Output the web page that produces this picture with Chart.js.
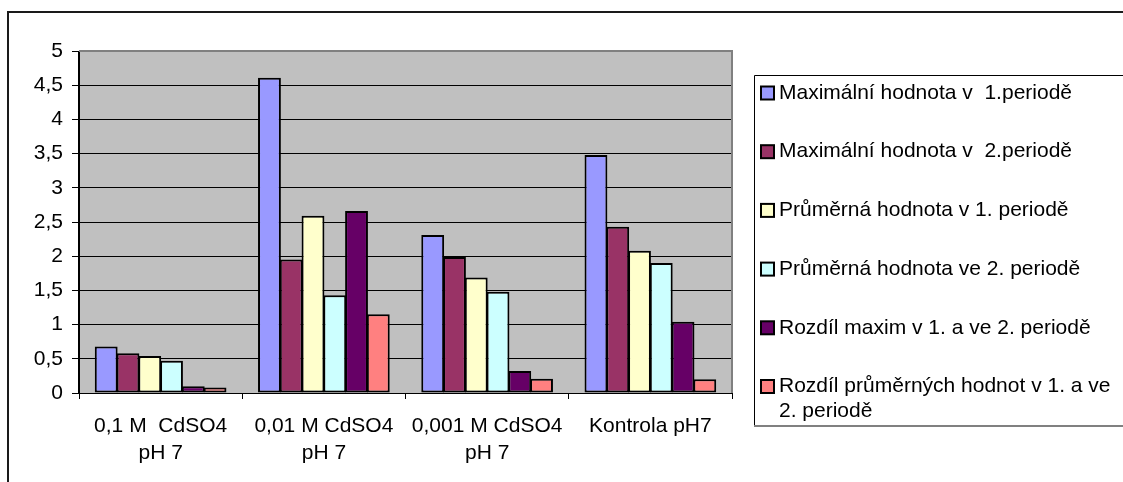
<!DOCTYPE html>
<html>
<head>
<meta charset="utf-8">
<script src="https://cdn.jsdelivr.net/npm/chart.js@4/dist/chart.umd.min.js"></script>
<style>
  html, body { margin: 0; padding: 0; background: #fff; }
  #wrap { width: 1123px; height: 482px; }
</style>
</head>
<body>
<div id="wrap"><canvas id="c" width="1123" height="482"></canvas></div>
<script>
// Categories (multi-line axis labels)
const categories = [
  ['0,1 M  CdSO4', 'pH 7'],
  ['0,01 M CdSO4', 'pH 7'],
  ['0,001 M CdSO4', 'pH 7'],
  ['Kontrola pH7']
];

// Series names
const seriesNames = [
  'Maximální hodnota v  1.periodě',
  'Maximální hodnota v  2.periodě',
  'Průměrná hodnota v 1. periodě',
  'Průměrná hodnota ve 2. periodě',
  'Rozdíl maxim v 1. a ve 2. periodě',
  'Rozdíl průměrných hodnot v 1. a ve 2. periodě'
];

// Series values, one per category
const maxPeriod1   = [0.68, 4.61, 2.31, 3.48];
const maxPeriod2   = [0.58, 1.95, 1.99, 2.43];
const meanPeriod1  = [0.54, 2.59, 1.69, 2.08];
const meanPeriod2  = [0.47, 1.43, 1.48, 1.90];
const diffMax      = [0.10, 2.66, 0.32, 1.04];
const diffMean     = [0.08, 1.15, 0.21, 0.20];

// Y axis range
const yMin = 0, yMax = 5, yStep = 0.5;

const seriesValues = [maxPeriod1, maxPeriod2, meanPeriod1, meanPeriod2, diffMax, diffMean];
const seriesColors = ['#9999FF', '#993366', '#FFFFCC', '#CCFFFF', '#660066', '#FF8080'];

const FONT = '"Liberation Sans", Arial, sans-serif';
const FONT_SIZE = 21;

// Page frame, plot background and plot border
const framePlugin = {
  id: 'frame',
  beforeDraw(chart) {
    const ctx = chart.ctx;
    const a = chart.chartArea;
    ctx.save();
    ctx.fillStyle = '#fff';
    ctx.fillRect(0, 0, chart.width, chart.height);
    // outer frame (top and left edges)
    ctx.strokeStyle = '#1a1a1a';
    ctx.lineWidth = 2;
    ctx.beginPath();
    ctx.moveTo(chart.width + 2, 12);
    ctx.lineTo(8, 12);
    ctx.lineTo(8, chart.height + 2);
    ctx.stroke();
    // plot background
    ctx.fillStyle = '#C0C0C0';
    ctx.fillRect(a.left, a.top, a.right - a.left, a.bottom - a.top);
    ctx.restore();
  },
  afterDraw(chart) {
    const ctx = chart.ctx;
    const a = chart.chartArea;
    ctx.save();
    ctx.strokeStyle = '#808080';
    ctx.lineWidth = 2;
    ctx.beginPath();
    ctx.moveTo(a.left, a.top);
    ctx.lineTo(a.right, a.top);
    ctx.lineTo(a.right, a.bottom);
    ctx.stroke();
    // left axis line on top
    ctx.strokeStyle = '#000';
    ctx.lineWidth = 1;
    ctx.beginPath();
    ctx.moveTo(a.left - 0.5, a.top);
    ctx.lineTo(a.left - 0.5, a.bottom);
    ctx.stroke();
    ctx.restore();
  }
};

// Boxed legend on the right with wrapped labels
const boxLegendPlugin = {
  id: 'boxLegend',
  afterDraw(chart, args, opts) {
    const ctx = chart.ctx;
    ctx.save();
    const x = opts.x, y = opts.y, bottom = opts.bottom;
    // box
    ctx.fillStyle = '#fff';
    ctx.fillRect(x, y, chart.width - x + 5, bottom - y);
    ctx.strokeStyle = '#000';
    ctx.lineWidth = 1;
    ctx.beginPath();
    ctx.moveTo(chart.width + 5, y + 0.5);
    ctx.lineTo(x + 0.5, y + 0.5);
    ctx.lineTo(x + 0.5, bottom);
    ctx.stroke();
    ctx.strokeStyle = '#808080';
    ctx.lineWidth = 2;
    ctx.beginPath();
    ctx.moveTo(x, bottom);
    ctx.lineTo(chart.width + 5, bottom);
    ctx.stroke();

    ctx.font = FONT_SIZE + 'px ' + FONT;
    ctx.textBaseline = 'middle';
    const textX = opts.textX;
    const maxW = opts.wrapRight - textX;
    chart.data.datasets.forEach((ds, i) => {
      const cy = opts.firstY + i * opts.step;
      // swatch
      const s = opts.swatch;
      ctx.fillStyle = ds.backgroundColor;
      ctx.fillRect(opts.swatchX, cy - s / 2, s, s);
      ctx.strokeStyle = '#000';
      ctx.lineWidth = 2;
      ctx.strokeRect(opts.swatchX, cy - s / 2, s, s);
      // wrapped label
      const words = ds.label.split(' ');
      const lines = [];
      let cur = '';
      words.forEach(w => {
        const test = cur === '' ? w : cur + ' ' + w;
        if (ctx.measureText(test).width > maxW && cur !== '') {
          lines.push(cur);
          cur = w;
        } else {
          cur = test;
        }
      });
      lines.push(cur);
      ctx.fillStyle = '#000';
      lines.forEach((ln, k) => {
        ctx.fillText(ln, textX, cy + k * opts.lineH);
      });
    });
    ctx.restore();
  }
};

const datasets = seriesNames.map((name, i) => ({
  label: name,
  data: seriesValues[i],
  backgroundColor: seriesColors[i],
  borderColor: '#000',
  borderWidth: 2,
  borderSkipped: false,
  categoryPercentage: 0.8,
  barPercentage: 1.05
}));

new Chart(document.getElementById('c'), {
  type: 'bar',
  data: { labels: categories, datasets },
  plugins: [framePlugin, boxLegendPlugin],
  options: {
    responsive: false,
    animation: false,
    devicePixelRatio: 1,
    layout: { padding: { left: 0, top: 51, right: 391, bottom: 0 } },
    plugins: {
      legend: { display: false },
      tooltip: { enabled: false },
      boxLegend: {
        x: 754, y: 75, bottom: 426,
        swatchX: 761, swatch: 13, textX: 779, wrapRight: 1115,
        firstY: 93, step: 58.7, lineH: 25
      }
    },
    scales: {
      x: {
        afterFit(scale) { scale.height = 89; },
        grid: {
          offset: true,
          drawOnChartArea: false,
          drawTicks: true,
          tickLength: 6,
          tickColor: '#000',
          tickWidth: 1
        },
        border: { display: true, color: '#000', width: 1 },
        ticks: {
          color: '#000',
          padding: 14,
          maxRotation: 0,
          autoSkip: false,
          font: { family: FONT, size: FONT_SIZE, lineHeight: 1.27 }
        }
      },
      y: {
        min: yMin,
        max: yMax,
        afterFit(scale) { scale.width = 79; },
        grid: {
          color: (c) => (c.tick && c.tick.value === yMax ? '#808080' : '#000'),
          lineWidth: 1,
          drawTicks: true,
          tickLength: 7,
          tickColor: '#000'
        },
        border: { display: true, color: '#000', width: 1 },
        ticks: {
          stepSize: yStep,
          color: '#000',
          padding: 9,
          font: { family: FONT, size: FONT_SIZE },
          callback: (v) => String(v).replace('.', ',')
        }
      }
    }
  }
});
</script>
</body>
</html>
